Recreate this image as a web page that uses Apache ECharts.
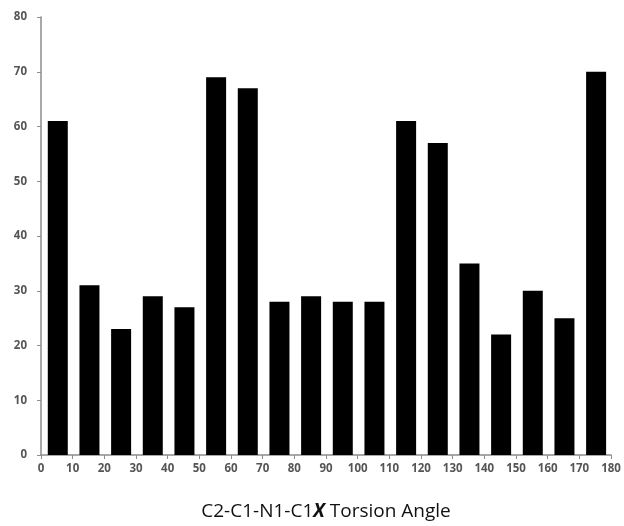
<!DOCTYPE html>
<html><head><meta charset="utf-8">
<script src="https://cdn.jsdelivr.net/npm/echarts@6/dist/echarts.min.js"></script>
<style>html,body{margin:0;padding:0;background:#fff}#c{width:624px;height:526px}</style>
</head><body><div id="c"></div>
<script>
const binCenters = [5,15,25,35,45,55,65,75,85,95,105,115,125,135,145,155,165,175];
const counts = [61,31,23,29,27,69,67,28,29,28,28,61,57,35,22,30,25,70];
const xTicks = [0,10,20,30,40,50,60,70,80,90,100,110,120,130,140,150,160,170,180];
const yTicks = [0,10,20,30,40,50,60,70,80];

const chart = echarts.init(document.getElementById('c'));
const labelStyle = {color:'#555', fontFamily:'Open Sans', fontSize:11.5, fontWeight:'bold'};
chart.setOption({
  animation:false,
  grid:{left:41, right:13, top:17, bottom:63},
  xAxis:{
    type:'value', min:0, max:180, interval:10,
    axisLine:{show:true, lineStyle:{color:'#8c8c8c', width:1.5}},
    axisTick:{show:true, length:4, lineStyle:{color:'#8c8c8c'}},
    axisLabel:Object.assign({margin:8, showMaxLabel:true}, labelStyle),
    splitLine:{show:false},
    name:'{a|C2-C1-N1-C1}{b|X}{a| Torsion Angle}',
    nameLocation:'middle', nameGap:47,
    nameTextStyle:{rich:{
      a:{fontFamily:'Open Sans', fontSize:19, color:'#111'},
      b:{fontFamily:'Open Sans', fontSize:19, color:'#111', fontStyle:'italic', fontWeight:'bold'}
    }}
  },
  yAxis:{
    type:'value', min:0, max:80, interval:10,
    axisLine:{show:true, lineStyle:{color:'#8c8c8c', width:1.5}},
    axisTick:{show:true, length:4, lineStyle:{color:'#8c8c8c'}},
    axisLabel:Object.assign({margin:14}, labelStyle),
    splitLine:{show:false}
  },
  series:[{
    type:'bar',
    data: binCenters.map((c,i)=>[c+0.3, counts[i]]),
    barWidth:20,
    itemStyle:{color:'#000'}
  }]
});
</script></body></html>
